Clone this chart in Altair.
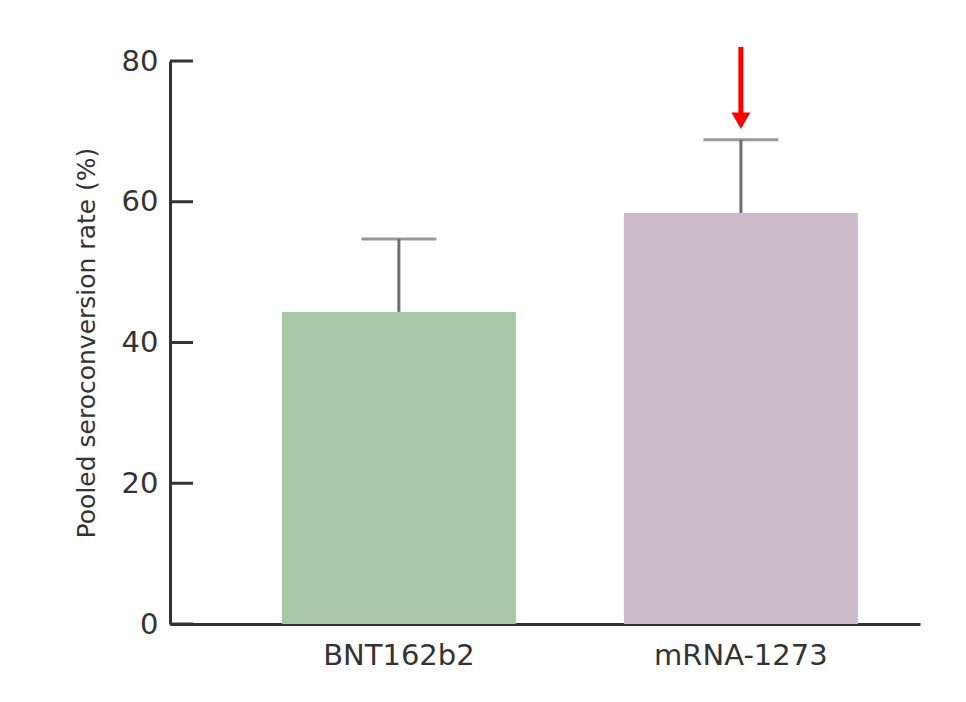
import altair as alt
import pandas as pd

# ---- data ----
vaccines = ["BNT162b2", "mRNA-1273"]
rates = [44.35, 58.4]
upper_ci = [54.7, 68.8]
bar_colors = ["#a7c8a7", "#cbbacb"]
y_ticks = [0, 20, 40, 60, 80]
arrow_vaccine = ["mRNA-1273"]
arrow_top = [82.0]
arrow_head = [71.5]

df = pd.DataFrame({"vaccine": vaccines, "rate": rates, "upper": upper_ci})
ticks_df = pd.DataFrame({"t": y_ticks})
arrow_df = pd.DataFrame({"vaccine": arrow_vaccine, "top": arrow_top, "head": arrow_head})

FONT = "DejaVu Sans"
AX = "#333333"
ERR = "#6e6e6e"
Y_TITLE = "Pooled seroconversion rate (%)"

xscale = alt.Scale(domain=vaccines, paddingInner=0.316, paddingOuter=0.2545, align=0.643)
yscale = alt.Scale(domain=[0, 80], nice=False, zero=True)

x_axis = alt.Axis(title=None, labelAngle=0, ticks=False, labelPadding=17,
                  labelFontSize=29, labelColor=AX, labelFont=FONT,
                  domainColor=AX, domainWidth=3, grid=False)
y_axis = alt.Axis(title=Y_TITLE, values=y_ticks, ticks=False,
                  labelPadding=12, labelFontSize=29, labelColor=AX, labelFont=FONT,
                  domainColor=AX, domainWidth=3, grid=False,
                  titleFont=FONT, titleFontSize=25, titleFontWeight="normal",
                  titleColor=AX, titlePadding=22)


def X():
    return alt.X("vaccine:N", scale=xscale, sort=vaccines, axis=x_axis, title=None)


def Y(field):
    return alt.Y(field, scale=yscale, axis=y_axis, title=Y_TITLE)


bars = alt.Chart(df).mark_bar().encode(
    x=X(),
    y=Y("rate:Q"),
    color=alt.Color("vaccine:N", scale=alt.Scale(domain=vaccines, range=bar_colors), legend=None),
)

whisker = alt.Chart(df).mark_rule(color=ERR, strokeWidth=3).encode(
    x=X(),
    y=Y("rate:Q"),
    y2="upper:Q",
)

caps = alt.Chart(df).mark_tick(color=ERR, thickness=3, size=75, orient="horizontal").encode(
    x=X(),
    y=Y("upper:Q"),
)

yticks = alt.Chart(ticks_df).mark_rule(color=AX, strokeWidth=3).encode(
    y=Y("t:Q"),
    x=alt.value(0),
    x2=alt.value(23),
)

arrow_shaft = alt.Chart(arrow_df).mark_rule(color="#ff0000", strokeWidth=5).encode(
    x=X(),
    y=Y("top:Q"),
    y2="head:Q",
)

arrow_tip = alt.Chart(arrow_df).mark_point(
    shape="triangle-down", filled=True, color="#ff0000", size=360, opacity=1
).encode(
    x=X(),
    y=Y("head:Q"),
)

chart = alt.layer(bars, whisker, caps, yticks, arrow_shaft, arrow_tip).properties(
    width=750,
    height=563,
    autosize=alt.AutoSizeParams(type="none"),
    padding={"left": 170, "top": 61, "right": 46, "bottom": 78},
    background="white",
).configure_view(stroke=None)

chart.save("out.html", embed_options={"renderer": "svg", "actions": False})
